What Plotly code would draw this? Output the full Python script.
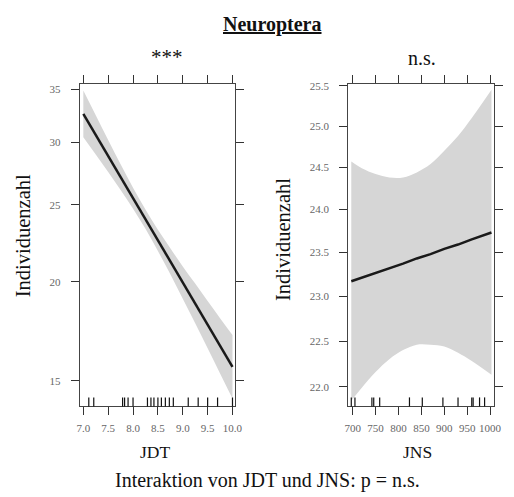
import math
import plotly.graph_objects as go

# Effect of JDT (log-link fit) with 95% confidence band
jdt_x = [7.0, 7.25, 7.5, 7.75, 8.0, 8.25, 8.5, 8.75, 9.0, 9.25, 9.5, 9.75, 10.0]
jdt_fit = [32.57, 30.64, 28.82, 27.10, 25.49, 23.98, 22.55, 21.22, 19.95, 18.77, 17.65, 16.60, 15.62]
jdt_upper = [34.86, 32.44, 30.19, 28.13, 26.28, 24.66, 23.26, 22.04, 20.91, 19.89, 18.91, 17.99, 17.13]
jdt_lower = [30.43, 28.94, 27.51, 26.11, 24.72, 23.32, 21.86, 20.43, 19.03, 17.72, 16.48, 15.32, 14.24]
jdt_rug = [7.11, 7.21, 7.79, 7.83, 7.90, 8.00, 8.29, 8.36, 8.42, 8.50, 8.57, 8.65, 8.73, 8.81,
           9.11, 9.31, 9.50, 9.70, 10.0]
jdt_ticks = [7.0, 7.5, 8.0, 8.5, 9.0, 9.5, 10.0]
jdt_ticktext = ["7.0", "7.5", "8.0", "8.5", "9.0", "9.5", "10.0"]
jdt_yticks = [15, 20, 25, 30, 35]

# Effect of JNS with 95% confidence band
jns_x = [697, 720, 750, 780, 810, 840, 870, 900, 930, 960, 1003]
jns_fit = [23.17, 23.21, 23.26, 23.32, 23.37, 23.43, 23.48, 23.54, 23.59, 23.65, 23.73]
jns_upper = [24.57, 24.49, 24.42, 24.38, 24.38, 24.44, 24.54, 24.70, 24.88, 25.10, 25.45]
jns_lower = [21.85, 21.99, 22.16, 22.30, 22.40, 22.46, 22.46, 22.44, 22.37, 22.28, 22.13]
jns_rug = [697, 705, 742, 746, 759, 824, 852, 897, 930, 960, 963, 977, 988]
jns_ticks = [700, 750, 800, 850, 900, 950, 1000]
jns_yticks = [22.0, 22.5, 23.0, 23.5, 24.0, 24.5, 25.0, 25.5]

W, H = 514, 497
SERIF = "Liberation Serif"
BAND = "#d6d6d6"
LINE = "#1a1a1a"

fig = go.Figure()


def add_panel(xs, fit, up, lo, xa, ya):
    # lower edge first, then the upper edge filled down to it
    fig.add_trace(go.Scatter(
        x=xs, y=lo, mode="lines", line=dict(width=0, shape="spline", color=BAND),
        hoverinfo="skip", showlegend=False, xaxis=xa, yaxis=ya))
    fig.add_trace(go.Scatter(
        x=xs, y=up, mode="lines", fill="tonexty", fillcolor=BAND,
        line=dict(width=0, shape="spline", color=BAND),
        hoverinfo="skip", showlegend=False, xaxis=xa, yaxis=ya))
    fig.add_trace(go.Scatter(
        x=xs, y=fit, mode="lines", line=dict(color=LINE, width=2.5),
        showlegend=False, xaxis=xa, yaxis=ya))


add_panel(jdt_x, jdt_fit, jdt_upper, jdt_lower, "x", "y")
add_panel(jns_x, jns_fit, jns_upper, jns_lower, "x2", "y2")

# rug marks along the bottom of each panel
for v in jdt_rug:
    fig.add_shape(type="line", xref="x", yref="y domain", x0=v, x1=v, y0=0, y1=0.028,
                  line=dict(color="#111", width=1.2))
for v in jns_rug:
    fig.add_shape(type="line", xref="x2", yref="y2 domain", x0=v, x1=v, y0=0, y1=0.028,
                  line=dict(color="#111", width=1.2))

ydom = [91.5 / H, 417 / H]
axis_common = dict(
    showline=True, linecolor="#444", linewidth=1, mirror="ticks",
    ticks="outside", ticklen=8, tickcolor="#333", tickwidth=1,
    showgrid=False, zeroline=False,
    tickfont=dict(family=SERIF, size=11, color="#666"),
)
x_common = dict(axis_common, ticklabelstandoff=3)
y_common = dict(axis_common, ticklabelstandoff=8)

fig.update_layout(
    width=W, height=H, margin=dict(l=0, r=0, t=0, b=0),
    paper_bgcolor="white", plot_bgcolor="white",
    xaxis=dict(domain=[77.5 / W, 236.5 / W], range=[6.927, 10.05],
               tickvals=jdt_ticks, ticktext=jdt_ticktext, anchor="y", **x_common),
    yaxis=dict(domain=ydom, type="log", range=[math.log10(13.92), math.log10(35.5)],
               tickvals=jdt_yticks, ticktext=[str(v) for v in jdt_yticks],
               anchor="x", **y_common),
    xaxis2=dict(domain=[352.3 / W, 501.7 / W], range=[690, 1008.5],
                tickvals=jns_ticks, ticktext=[str(v) for v in jns_ticks],
                anchor="y2", **x_common),
    yaxis2=dict(domain=ydom, type="log", range=[math.log10(21.79), math.log10(25.52)],
                tickvals=jns_yticks, ticktext=[f"{v:.1f}" for v in jns_yticks],
                anchor="x2", **y_common),
)


def label(text, x, y, size, angle=0):
    fig.add_annotation(text=text, x=x / W, y=1 - y / H, xref="paper", yref="paper",
                       showarrow=False, textangle=angle, xanchor="center", yanchor="middle",
                       font=dict(family=SERIF, size=size, color="#111"))


label("<b><u>Neuroptera</u></b>", 275, 20, 20)
label("***", 167, 53, 21)
label("n.s.", 428, 54, 20)
label("Individuenzahl", 19, 233, 20.5, -90)
label("Individuenzahl", 285, 237, 20.5, -90)
label("JDT", 155, 452, 17.5)
label("JNS", 423, 452, 17.5)
label("Interaktion von JDT und JNS: p = n.s.", 270, 480, 20)

fig.write_html("out.html")
